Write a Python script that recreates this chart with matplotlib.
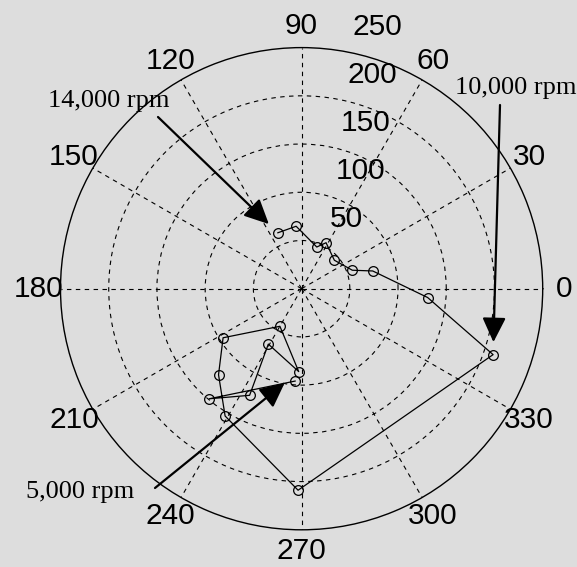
import numpy as np
import matplotlib
matplotlib.use('Agg')
import matplotlib.pyplot as plt
from matplotlib import transforms

# orbit of the shaft centre, sampled from 5,000 rpm up to 14,000 rpm
theta_deg = [266, 230, 244, 239, 268, 240, 212, 226, 239, 269,
             341, 356, 14, 20, 41, 62, 70, 95, 113]
radius = [96, 149, 123, 67, 86, 45, 96, 124, 154, 209,
          210, 131, 76, 56, 45, 54, 46, 65, 63]

rmax = 250
ring_values = [50, 100, 150, 200, 250]
spoke_angles = list(range(0, 360, 30))
speed_labels = ['5,000 rpm', '10,000 rpm', '14,000 rpm']
speed_index = [4, 10, 18]          # sample each arrow points at

W, H = 577, 567
bg = '#dddddd'
fig = plt.figure(figsize=(W / 100, H / 100), dpi=100, facecolor=bg)

cx, cy, R = 301.6, 288.7, 241.1   # centre and outer radius in pixels
ax = fig.add_axes([(cx - R) / W, (H - cy - R) / H, 2 * R / W, 2 * R / H],
                  projection='polar')
ax.set_facecolor(bg)
ax.set_ylim(0, rmax)
ax.set_thetagrids(spoke_angles, labels=[''] * len(spoke_angles))
ax.set_rgrids(ring_values[:-1], labels=[''] * (len(ring_values) - 1))
ax.grid(True, color='k', lw=0.8, ls=(0, (4, 4)))
ax.spines['polar'].set_linewidth(1.0)
ax.spines['polar'].set_color('k')
ax.tick_params(length=0)
ax.set_axisbelow(True)

sans = ['Liberation Sans', 'DejaVu Sans']
serif = ['Liberation Serif', 'DejaVu Serif']

# angle labels just outside the rim
for a in spoke_angles:
    ax.text(np.deg2rad(a), 1.09 * rmax, str(a), family=sans, fontsize=21.5,
            ha='center', va='center')

# ring labels along the 83 degree line
ring_tr = transforms.offset_copy(ax.transData, fig=fig, x=22, y=14, units='dots')
for v in ring_values:
    ax.text(np.deg2rad(83), v, str(v), family=sans, fontsize=21.5,
            ha='left', va='baseline', transform=ring_tr)

th = np.deg2rad(theta_deg)
ax.plot(th, radius, color='k', lw=0.9, marker='o', ms=7,
        mfc='none', mec='k', mew=0.9)

# speed annotations: text position and arrow tail in image pixels
text_pos = [(26, 498), (455, 94), (48, 107)]
tail_pos = [(155, 488), (500, 105), (158, 117)]
shrink = [13, 9, 9]
for lab, k, (tx, ty), (ax_, ay_), s in zip(speed_labels, speed_index,
                                           text_pos, tail_pos, shrink):
    fig.text(tx / W, (H - ty) / H, lab, family=serif, fontsize=19,
             ha='left', va='baseline')
    ax.annotate('', xy=(th[k], radius[k]), xycoords='data',
                xytext=(ax_, H - ay_), textcoords='figure pixels',
                arrowprops=dict(arrowstyle='-|>,head_length=1.5,head_width=0.72',
                                mutation_scale=10, lw=1.6, color='k',
                                shrinkA=0, shrinkB=s))

fig.savefig('out.png', dpi=100, facecolor=bg)
